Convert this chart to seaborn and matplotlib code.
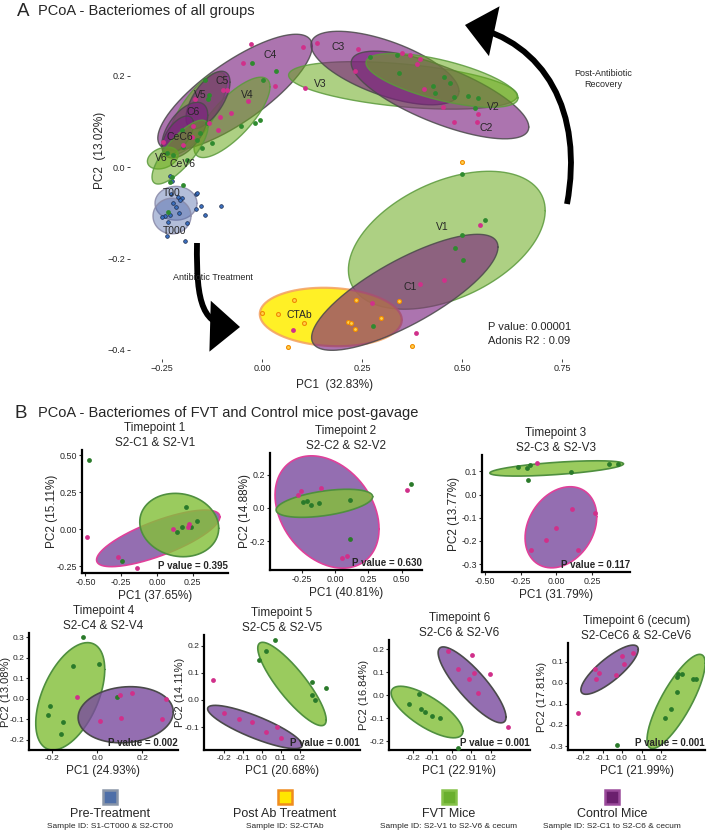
import numpy as np
import matplotlib
matplotlib.use('Agg')
import matplotlib.pyplot as plt
from matplotlib.patches import FancyArrowPatch, Rectangle
from matplotlib.path import Path
import seaborn as sns

sns.set_style('white')
plt.rcParams['font.family'] = ['Liberation Sans', 'DejaVu Sans']

W, H = 709, 832

# ---------------- panel A data ----------------
a_ell_names = ['C4', 'V4', 'V5', 'C5', 'C6', 'CeC6', 'V6', 'CeV6', 'T00', 'T000',
               'V3', 'C3', 'C2', 'V2', 'V1', 'CTAb', 'C1']
a_ell_kind = ['C', 'V', 'V', 'C', 'C', 'C', 'V', 'V', 'T', 'T',
              'V', 'C', 'C', 'V', 'V', 'A', 'C']
a_ell_cx = [-0.0675, -0.075, -0.163, -0.135, -0.193, -0.21, -0.248, -0.205, -0.215, -0.225,
            0.3525, 0.3075, 0.445, 0.45, 0.462, 0.172, 0.357]
a_ell_cy = [0.164, 0.109, 0.118, 0.147, 0.081, 0.07, 0.020, 0.033, -0.079, -0.107,
            0.179, 0.217, 0.158, 0.19, -0.160, -0.328, -0.274]
a_ell_sx = [0.193, 0.095, 0.0745, 0.055, 0.0575, 0.039, 0.0385, 0.07, 0.0525, 0.0475,
            0.286, 0.185, 0.222, 0.19, 0.246, 0.1775, 0.233]
a_ell_sy = [0.127, 0.088, 0.090, 0.063, 0.061, 0.042, 0.024, 0.07, 0.037, 0.039,
            0.052, 0.0805, 0.096, 0.059, 0.151, 0.064, 0.127]
a_ell_rho = [0.79, 0.76, 0.75, 0.62, 0.54, 0.58, 0.3, 0.78, 0.0, 0.0,
             -0.43, -0.63, -0.73, -0.65, 0.43, -0.1, 0.78]

a_lab_names = ['C4', 'C3', 'V3', 'V2', 'C2', 'C5', 'V5', 'V4', 'C6', 'CeC6', 'V6', 'CeV6',
               'T00', 'T000', 'V1', 'C1', 'CTAb']
a_lab_x = [0.02, 0.19, 0.145, 0.5775, 0.56, -0.1, -0.155, -0.0375, -0.1725, -0.205, -0.2525,
           -0.1975, -0.225, -0.2175, 0.45, 0.37, 0.0925]
a_lab_y = [0.245, 0.263, 0.182, 0.131, 0.085, 0.188, 0.158, 0.158, 0.12, 0.066, 0.02,
           0.007, -0.057, -0.14, -0.131, -0.263, -0.324]

# FVT mice (V) samples
a_v_x = [0.27, 0.3375, 0.3425, 0.4275, 0.4325, 0.455, 0.47, 0.48, 0.515, 0.54, 0.5325,
         0.50, 0.5575, -0.1425, -0.135, -0.025, 0.035, 0.0025, -0.1325, -0.0175, -0.005,
         -0.0525, -0.1375, -0.125, -0.15, -0.1975, -0.2225, -0.225, -0.23, -0.1975,
         -0.155, -0.1875, -0.2375, -0.1625, -0.2, 0.50, 0.4825, 0.5025, 0.2775, -0.235]
a_v_y = [0.241, 0.245, 0.206, 0.177, 0.162, 0.197, 0.184, 0.153, 0.155, 0.151, 0.129,
         -0.015, -0.116, 0.19, 0.149, 0.228, 0.21, 0.19, 0.158, 0.096, 0.103,
         0.09, 0.096, 0.053, 0.042, 0.044, 0.026, -0.022, -0.033, -0.039,
         0.074, 0.015, 0.031, 0.059, 0.081, -0.149, -0.177, -0.204, -0.348, -0.098]
# Control mice (C) samples
a_c_x = [-0.0275, 0.1025, -0.0475, 0.0325, 0.1075, -0.0975, -0.0875, -0.1675, -0.035,
         -0.105, -0.0775, -0.1325, -0.11, -0.1725, -0.175, -0.1975, -0.2475, 0.1375, 0.24,
         0.35, 0.37, 0.395, 0.3875, 0.2325, 0.405, 0.4525, 0.54, 0.5375, 0.48, 0.545,
         0.395, 0.455, 0.275, 0.0775, 0.385]
a_c_y = [0.269, 0.263, 0.228, 0.177, 0.173, 0.168, 0.168, 0.149, 0.144,
         0.109, 0.118, 0.096, 0.081, 0.09, 0.066, 0.048, 0.055, 0.271, 0.258,
         0.249, 0.245, 0.236, 0.225, 0.21, 0.171, 0.131, 0.116, 0.098, 0.098, -0.127,
         -0.256, -0.247, -0.298, -0.357, -0.363]
# Pre-treatment (T) samples
a_t_x = [-0.23, -0.225, -0.165, -0.1525, -0.1025, -0.165, -0.1425, -0.1875, -0.1925,
         -0.2375, -0.21, -0.2225, -0.2075, -0.235, -0.2425, -0.25, -0.215, -0.2275,
         -0.2, -0.23, -0.1625, -0.205]
a_t_y = [-0.02, -0.031, -0.059, -0.085, -0.085, -0.092, -0.105, -0.123, -0.162,
         -0.151, -0.066, -0.079, -0.101, -0.12, -0.107, -0.109, -0.088, -0.059,
         -0.068, -0.105, -0.057, -0.072]
# Post antibiotic (CTAb) samples
a_ab_x = [0.08, 0.04, 0.0, 0.105, 0.065, 0.235, 0.215, 0.2225, 0.2325, 0.2975, 0.3425,
          0.375, 0.50]
a_ab_y = [-0.291, -0.322, -0.319, -0.341, -0.394, -0.291, -0.339, -0.341, -0.354, -0.33,
          -0.293, -0.392, 0.011]

a_xticks = [-0.25, 0.0, 0.25, 0.50, 0.75]
a_yticks = [-0.4, -0.2, 0.0, 0.2]

# ---------------- panel B data ----------------
b_titles = ['Timepoint 1\nS2-C1 & S2-V1', 'Timepoint 2\nS2-C2 & S2-V2',
            'Timepoint 3\nS2-C3 & S2-V3', 'Timepoint 4\nS2-C4 & S2-V4',
            'Timepoint 5\nS2-C5 & S2-V5', 'Timepoint 6\nS2-C6 & S2-V6',
            'Timepoint 6 (cecum)\nS2-CeC6 & S2-CeV6']
b_xlabels = ['PC1 (37.65%)', 'PC1 (40.81%)', 'PC1 (31.79%)', 'PC1 (24.93%)',
             'PC1 (20.68%)', 'PC1 (22.91%)', 'PC1 (21.99%)']
b_ylabels = ['PC2 (15.11%)', 'PC2 (14.88%)', 'PC2 (13.77%)', 'PC2 (13.08%)',
             'PC2 (14.11%)', 'PC2 (16.84%)', 'PC2 (17.81%)']
b_pvalues = ['0.395', '0.630', '0.117', '0.002', '0.001', '0.001', '0.001']

tp1_v_x = [-0.473, 0.20, 0.277, 0.172, 0.142, 0.235, -0.243]
tp1_v_y = [0.466, 0.15, 0.054, 0.016, -0.02, 0.011, -0.216]
tp1_c_x = [-0.49, -0.275, -0.14, 0.114, 0.219, 0.226]
tp1_c_y = [-0.052, -0.19, -0.26, -0.003, 0.011, 0.034]

tp2_v_x = [-0.238, -0.213, -0.183, -0.12, 0.113, 0.113, 0.569]
tp2_v_y = [0.034, 0.044, 0.018, 0.032, 0.048, -0.186, 0.144]
tp2_c_x = [-0.276, -0.256, -0.108, 0.05, 0.093, 0.539]
tp2_c_y = [0.078, 0.102, 0.118, -0.298, -0.286, 0.108]

tp3_v_x = [-0.266, -0.202, -0.184, -0.197, 0.101, 0.373, 0.433]
tp3_v_y = [0.12, 0.113, 0.128, 0.063, 0.097, 0.132, 0.132]
tp3_c_x = [-0.134, 0.113, 0.273, -0.001, -0.072, -0.175, 0.152]
tp3_c_y = [0.138, -0.063, -0.081, -0.144, -0.197, -0.24, -0.24]

tp4_v_x = [-0.064, -0.109, 0.009, -0.207, -0.217, -0.151, -0.161, 0.089]
tp4_v_y = [0.299, 0.16, 0.167, -0.037, -0.082, -0.113, -0.172, 0.006]
tp4_c_x = [-0.088, 0.101, 0.156, 0.304, 0.014, 0.104, 0.287]
tp4_c_y = [0.009, 0.016, 0.028, -0.001, -0.11, -0.095, -0.101]

tp5_v_x = [0.068, 0.021, -0.017, 0.261, 0.337, 0.261, 0.279]
tp5_v_y = [0.22, 0.181, 0.148, 0.068, 0.043, 0.019, 0.0]
tp5_c_x = [-0.259, -0.2, -0.12, -0.05, 0.02, 0.08, 0.1]
tp5_c_y = [0.072, -0.05, -0.07, -0.08, -0.12, -0.1, -0.14]

tp6_v_x = [-0.168, -0.22, -0.14, -0.1, -0.06, -0.16, 0.03]
tp6_v_y = [0.006, -0.035, -0.07, -0.09, -0.1, -0.06, -0.23]
tp6_c_x = [-0.019, 0.101, 0.029, 0.114, 0.089, 0.195, 0.135, 0.287]
tp6_c_y = [0.193, 0.176, 0.114, 0.099, 0.07, 0.092, 0.01, -0.137]

cec_v_x = [0.289, 0.306, 0.284, 0.366, 0.379, 0.28, 0.25, 0.22, -0.026]
cec_v_y = [0.041, 0.043, 0.03, 0.018, 0.018, -0.041, -0.125, -0.165, -0.295]
cec_c_x = [-0.138, -0.116, -0.133, -0.031, -0.002, 0.01, 0.058, -0.226]
cec_c_y = [0.065, 0.049, 0.018, 0.038, 0.129, 0.09, 0.141, -0.143]

b_v_pts = [(tp1_v_x, tp1_v_y), (tp2_v_x, tp2_v_y), (tp3_v_x, tp3_v_y), (tp4_v_x, tp4_v_y),
           (tp5_v_x, tp5_v_y), (tp6_v_x, tp6_v_y), (cec_v_x, cec_v_y)]
b_c_pts = [(tp1_c_x, tp1_c_y), (tp2_c_x, tp2_c_y), (tp3_c_x, tp3_c_y), (tp4_c_x, tp4_c_y),
           (tp5_c_x, tp5_c_y), (tp6_c_x, tp6_c_y), (cec_c_x, cec_c_y)]

# group ellipses: centre, spread in x, spread in y, correlation
b_v_ell = [(0.156, 0.027, 0.276, 0.214, -0.1), (-0.08, 0.028, 0.363, 0.084, 0.47),
           (0.003, 0.113, 0.468, 0.033, 0.6), (-0.119, 0.011, 0.153, 0.262, 0.5),
           (0.158, 0.059, 0.18, 0.154, -0.86), (-0.128, -0.072, 0.184, 0.112, -0.74),
           (0.277, -0.088, 0.149, 0.224, 0.81)]
b_c_ell = [(0.009, -0.063, 0.431, 0.191, 0.76), (-0.06, -0.024, 0.391, 0.336, -0.3),
           (0.033, -0.141, 0.251, 0.175, 0.26), (0.127, -0.079, 0.211, 0.137, 0.1),
           (-0.037, -0.1, 0.249, 0.08, -0.84), (0.103, 0.046, 0.174, 0.165, -0.85),
           (-0.064, 0.063, 0.147, 0.117, 0.82)]

b_xticks = [[-0.5, -0.25, 0, 0.25], [-0.25, 0, 0.25, 0.5], [-0.5, -0.25, 0, 0.25],
            [-0.2, 0, 0.2], [-0.2, -0.1, 0, 0.1, 0.2], [-0.2, -0.1, 0, 0.1, 0.2],
            [-0.2, -0.1, 0, 0.1, 0.2]]
b_yticks = [[-0.25, 0, 0.25, 0.5], [-0.2, 0, 0.2], [-0.3, -0.2, -0.1, 0, 0.1],
            [-0.2, -0.1, 0, 0.1, 0.2, 0.3], [-0.1, 0, 0.1, 0.2], [-0.2, -0.1, 0, 0.1, 0.2],
            [-0.3, -0.2, -0.1, 0, 0.1]]

legend_names = ['Pre-Treatment', 'Post Ab Treatment', 'FVT Mice', 'Control Mice']
legend_ids = ['Sample ID: S1-CT000 & S2-CT00', 'Sample ID: S2-CTAb',
              'Sample ID: S2-V1 to S2-V6 & cecum', 'Sample ID: S2-C1 to S2-C6 & cecum']


def ell_xy(cx, cy, sx, sy, rho):
    t = np.linspace(0, 2 * np.pi, 240)
    return cx + sx * np.cos(t), cy + sy * (rho * np.cos(t) + np.sqrt(1 - rho ** 2) * np.sin(t))


def fmt(v, d, minus='\u2212'):
    s = f'{v:.{d}f}'
    return s.replace('-', minus)


fig = plt.figure(figsize=(W / 100, H / 100), dpi=100)


def px_axes(l, t, r, b):
    return fig.add_axes([l / W, 1 - b / H, (r - l) / W, (b - t) / H])


def fpx(x, y):
    return (x / W, 1 - y / H)


def curved_arrow(pts):
    verts = [fpx(*p) for p in pts]
    codes = [Path.MOVETO, Path.CURVE4, Path.CURVE4, Path.CURVE4]
    arr = FancyArrowPatch(path=Path(verts, codes), transform=fig.transFigure,
                          arrowstyle='-|>,head_length=1.35,head_width=1.15', mutation_scale=12,
                          lw=4.2, color='black', joinstyle='miter', capstyle='butt')
    fig.add_artist(arr)


# ---------------- Panel A ----------------
fig.text(*fpx(17, 11), 'A', fontsize=13.5, va='center')
fig.text(*fpx(38, 11), 'PCoA - Bacteriomes of all groups', fontsize=10.5, va='center')

axA = px_axes(130, 21, 642, 359)
axA.set_xlim(-0.33, 0.95)
axA.set_ylim(-0.42, 0.32)

a_style = {'C': ('#7a1f7e', '#4a4a4a', 0.62),
           'V': ('#6aaa1e', '#5b9a3c', 0.55),
           'T': ('#4a64a8', '#8a8aa8', 0.42),
           'A': ('#ffee00', '#f4a060', 0.85)}
for kind, cx, cy, sx, sy, rho in zip(a_ell_kind, a_ell_cx, a_ell_cy, a_ell_sx, a_ell_sy, a_ell_rho):
    x, y = ell_xy(cx, cy, sx, sy, rho)
    fc, ec, al = a_style[kind]
    axA.fill(x, y, color=fc, alpha=al, lw=0, zorder=2)
    axA.plot(x, y, color=ec, lw=1.6 if kind == 'A' else 1.0, alpha=0.85, zorder=2)

sns.scatterplot(x=a_t_x, y=a_t_y, ax=axA, color='#3a6fc0', edgecolor='#1a2a4a',
                linewidth=0.5, s=7, zorder=3, legend=False)
sns.scatterplot(x=a_v_x, y=a_v_y, ax=axA, color='#2f8a2f', linewidth=0, s=12, zorder=3, legend=False)
sns.scatterplot(x=a_c_x, y=a_c_y, ax=axA, color='#d0308a', linewidth=0, s=12, zorder=3, legend=False)
sns.scatterplot(x=a_ab_x, y=a_ab_y, ax=axA, color='#ffd24d', edgecolor='#f08a00',
                linewidth=0.8, s=8, zorder=3, legend=False)

for name, x, y in zip(a_lab_names, a_lab_x, a_lab_y):
    axA.text(x, y, name, fontsize=7.5, ha='center', va='center', zorder=4)

axA.set_xticks(a_xticks)
axA.set_xticklabels([fmt(v, 2) for v in a_xticks])
axA.set_yticks(a_yticks)
axA.set_yticklabels([fmt(v, 1) for v in a_yticks])
axA.tick_params(length=2, width=0.6, labelsize=6.5, pad=1.5, direction='out',
                bottom=True, left=True)
for sp in axA.spines.values():
    sp.set_visible(False)
axA.set_xlabel('')
axA.set_ylabel('')
fig.text(*fpx(100, 150), 'PC2  (13.02%)', rotation=90, fontsize=8.5, ha='center', va='center')
fig.text(*fpx(335, 385), 'PC1  (32.83%)', fontsize=8.5, ha='center', va='center')

axA.text(0.565, -0.365, 'P value: 0.00001\nAdonis R2 : 0.09', fontsize=8, ha='left',
         va='center', linespacing=1.45)

curved_arrow([(197, 243), (196, 305), (203, 326), (240, 327)])
curved_arrow([(567, 204), (584, 112), (545, 42), (465, 25)])
fig.text(*fpx(173, 277), 'Antibiotic Treatment', fontsize=6.5, ha='left', va='center')
fig.text(*fpx(603, 79), 'Post-Antibiotic\nRecovery', fontsize=6.5, ha='center', va='center',
         linespacing=1.3)

# ---------------- Panel B ----------------
fig.text(*fpx(15, 413), 'B', fontsize=13.5, va='center')
fig.text(*fpx(38, 413), 'PCoA - Bacteriomes of FVT and Control mice post-gavage',
         fontsize=10.5, va='center')

b_frames = [(82, 450, 228, 573), (270, 453, 422, 570), (482, 455, 630, 572),
            (29, 633, 178, 750), (204, 635, 360, 750), (389, 640, 530, 750),
            (568, 643, 705, 750)]
b_ylab_px = [58, 251, 460, 11, 185, 369, 547]
b_lims = [((-0.524, 0.497), (-0.297, 0.534)), ((-0.489, 0.654), (-0.371, 0.329)),
          ((-0.52, 0.517), (-0.334, 0.171)), ((-0.302, 0.359), (-0.251, 0.32)),
          ((-0.305, 0.516), (-0.185, 0.24)), ((-0.323, 0.40), (-0.237, 0.241)),
          ((-0.277, 0.425), (-0.319, 0.19))]
c_edges = ['#e0409a', '#e0409a', '#e0409a', '#4a4a4a', '#4a4a4a', '#4a4a4a', '#4a4a4a']
c_on_top = [False, False, False, True, False, False, False]

for i in range(7):
    l, t, r, b = b_frames[i]
    ax = px_axes(l, t, r, b)
    ax.set_xlim(*b_lims[i][0])
    ax.set_ylim(*b_lims[i][1])

    vx, vy = ell_xy(*b_v_ell[i])
    cx, cy = ell_xy(*b_c_ell[i])
    zc = 2.2 if c_on_top[i] else 2.0
    ax.fill(cx, cy, color='#7a4a9e', alpha=0.8, lw=0, zorder=zc)
    ax.plot(cx, cy, color=c_edges[i], lw=1.2, zorder=zc)
    ax.fill(vx, vy, color='#84c03a', alpha=0.82, lw=0, zorder=2.1)
    ax.plot(vx, vy, color='#4f8f3f', lw=1.2, zorder=2.1)

    sns.scatterplot(x=b_v_pts[i][0], y=b_v_pts[i][1], ax=ax, color='#2a7a2a', linewidth=0,
                    s=12, zorder=3, legend=False)
    sns.scatterplot(x=b_c_pts[i][0], y=b_c_pts[i][1], ax=ax, color='#d0308a', linewidth=0,
                    s=12, zorder=3, legend=False)

    xd = 2 if i < 3 else 1
    yd = 2 if i == 0 else 1
    ax.set_xticks(b_xticks[i])
    ax.set_xticklabels([fmt(v, xd, '-') for v in b_xticks[i]])
    ax.set_yticks(b_yticks[i])
    ax.set_yticklabels([fmt(v, yd, '-') for v in b_yticks[i]])
    ax.tick_params(length=2.5, width=0.8, labelsize=6.4 if i < 3 else 6.1, pad=1.0,
                   direction='out', bottom=True, left=True)
    sns.despine(ax=ax)
    for side in ['left', 'bottom']:
        ax.spines[side].set_linewidth(1.6)
        ax.spines[side].set_color('black')
    ax.set_xlabel(b_xlabels[i], fontsize=8.5, labelpad=2)
    ax.set_ylabel(b_ylabels[i], fontsize=8.5 if i < 3 else 8)
    ax.yaxis.set_label_coords((b_ylab_px[i] - l) / (r - l), 0.5)
    ax.set_title(b_titles[i], fontsize=8.5, pad=3, linespacing=1.3)
    ax.text(1.0, 0.015, 'P value = ' + b_pvalues[i], transform=ax.transAxes, ha='right',
            va='bottom', fontsize=7, fontweight='bold', zorder=5)

# ---------------- legend ----------------
leg_fill = ['#4e6fa8', '#ffe600', '#6aaf2e', '#6b1f6e']
leg_edge = ['#8a96a8', '#f08c1e', '#86c24a', '#9a4a9a']
leg_cx = [110, 285, 449, 612]
for name, sid, fc, ec, x in zip(legend_names, legend_ids, leg_fill, leg_edge, leg_cx):
    fig.add_artist(Rectangle(fpx(x - 7, 804), 14 / W, 14 / H, transform=fig.transFigure,
                             facecolor=fc, edgecolor=ec, lw=1.8))
    fig.text(*fpx(x, 814), name, fontsize=9, ha='center', va='center')
    fig.text(*fpx(x, 826), sid, fontsize=6, ha='center', va='center')

fig.savefig('out.png', dpi=100)
